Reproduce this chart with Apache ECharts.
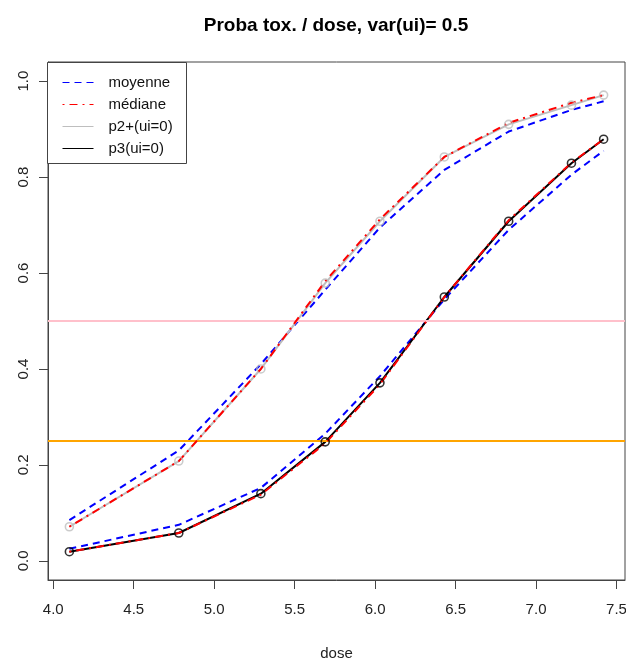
<!DOCTYPE html>
<html>
<head>
<meta charset="utf-8">
<script src="https://cdn.jsdelivr.net/npm/echarts@6/dist/echarts.min.js"></script>
<style>
html,body{margin:0;padding:0;background:#fff;}
#chart{width:626px;height:660px;}
</style>
</head>
<body>
<div id="chart"></div>
<script>
// ---- data ----
var dose = [4.10, 4.78, 5.29, 5.69, 6.03, 6.43, 6.83, 7.22, 7.42];
var moyenneP2 = [0.085, 0.230, 0.410, 0.565, 0.695, 0.815, 0.895, 0.940, 0.958];
var moyenneP3 = [0.025, 0.075, 0.152, 0.265, 0.385, 0.545, 0.690, 0.805, 0.855];
var medianeP2 = [0.071, 0.208, 0.400, 0.583, 0.712, 0.842, 0.913, 0.955, 0.971];
var medianeP3 = [0.019, 0.058, 0.138, 0.245, 0.368, 0.550, 0.710, 0.830, 0.879];
var p2ui0 = [0.071, 0.208, 0.400, 0.579, 0.708, 0.842, 0.910, 0.950, 0.971];
var p3ui0 = [0.019, 0.058, 0.140, 0.248, 0.371, 0.550, 0.708, 0.829, 0.879];
var xTicks = [4.0, 4.5, 5.0, 5.5, 6.0, 6.5, 7.0, 7.5];
var yTicks = [0.0, 0.2, 0.4, 0.6, 0.8, 1.0];
var refLines = [0.5, 0.25];
var legendNames = ['moyenne', 'médiane', 'p2+(ui=0)', 'p3(ui=0)'];
var titleText = 'Proba tox. / dose, var(ui)= 0.5';
var xName = 'dose';

function pairs(xs, ys) { return xs.map(function (x, i) { return [x, ys[i]]; }); }

var dMin = Math.min.apply(null, dose), dMax = Math.max.apply(null, dose);
var xPad = (dMax - dMin) * 0.04;
var xMin = dMin - xPad, xMax = dMax + xPad;
var yMin = 0 - 0.04, yMax = 1 + 0.04;

var FONT = '"Liberation Sans", Arial, sans-serif';
var AXIS = '#444';

var chart = echarts.init(document.getElementById('chart'), null, {renderer: 'canvas'});

function lineSeries(name, ys, color, width, type, z) {
  return {
    name: name, type: 'line', data: pairs(dose, ys),
    symbol: 'none', silent: true, animation: false, z: z,
    lineStyle: {color: color, width: width, type: type},
    itemStyle: {color: color}
  };
}
function markerSeries(ys, color) {
  return {
    type: 'scatter', data: pairs(dose, ys), symbol: 'circle', symbolSize: 8,
    silent: true, animation: false, z: 6,
    itemStyle: {color: 'rgba(0,0,0,0)', borderColor: color, borderWidth: 1.6}
  };
}

var first = lineSeries('moyenne', moyenneP2, '#0000FF', 2, [7, 5], 3);
first.markLine = {
  silent: true, symbol: 'none', animation: false,
  label: {show: false},
  data: [
    {yAxis: refLines[0], lineStyle: {color: '#FFC0CB', width: 2, type: 'solid'}},
    {yAxis: refLines[1], lineStyle: {color: '#FFA500', width: 2, type: 'solid'}}
  ]
};

var option = {
  backgroundColor: '#fff',
  animation: false,
  title: {
    text: titleText, left: 331, top: 11, textAlign: 'center',
    textStyle: {fontFamily: FONT, fontSize: 19, fontWeight: 'bold', color: '#000'}
  },
  grid: {left: 48, right: 1, top: 62, bottom: 80, show: true, borderColor: AXIS, borderWidth: 1,
    backgroundColor: 'transparent', containLabel: false, outerBoundsMode: 'none'},
  legend: {
    data: legendNames, orient: 'vertical', left: 62, top: 75, z: 60,
    itemWidth: 31, itemHeight: 14, itemGap: 7, padding: 0,
    selectedMode: false,
    lineStyle: {width: 1},
    itemStyle: {opacity: 0},
    textStyle: {fontFamily: FONT, fontSize: 15, color: '#111', padding: [0, 0, 0, 10]}
  },
  graphic: [{
    type: 'rect', left: 47, top: 62, z: 50, silent: true,
    shape: {width: 139, height: 101},
    style: {fill: '#fff', stroke: AXIS, lineWidth: 1}
  }],
  xAxis: {
    type: 'value', min: xMin, max: xMax,
    name: xName, nameLocation: 'middle', nameGap: 66,
    nameTextStyle: {fontFamily: FONT, fontSize: 15, color: '#222'},
    axisLine: {show: true, onZero: false, lineStyle: {color: AXIS, width: 1}},
    axisTick: {show: true, length: 9, customValues: xTicks, lineStyle: {color: AXIS}},
    axisLabel: {customValues: xTicks, margin: 22, fontFamily: FONT, fontSize: 15, color: '#222',
      formatter: function (v) { return v.toFixed(1); }},
    splitLine: {show: false}
  },
  yAxis: {
    type: 'value', min: yMin, max: yMax,
    axisLine: {show: true, onZero: false, lineStyle: {color: AXIS, width: 1}},
    axisTick: {show: true, length: 9, customValues: yTicks, lineStyle: {color: AXIS}},
    axisLabel: {customValues: yTicks, rotate: 90, margin: 17, fontFamily: FONT, fontSize: 15, color: '#222',
      formatter: function (v) { return v.toFixed(1); }},
    splitLine: {show: false}
  },
  series: [
    first,
    lineSeries('moyenne', moyenneP3, '#0000FF', 2, [7, 5], 3),
    lineSeries('p2+(ui=0)', p2ui0, '#BEBEBE', 2, 'solid', 4),
    lineSeries('p3(ui=0)', p3ui0, '#000000', 2, 'solid', 4),
    lineSeries('médiane', medianeP2, '#FF0000', 2, [2, 5, 8, 5], 5),
    lineSeries('médiane', medianeP3, '#FF0000', 2, [2, 5, 8, 5], 5),
    markerSeries(p2ui0, '#BEBEBE'),
    markerSeries(p3ui0, '#000000')
  ]
};
chart.setOption(option);
</script>
</body>
</html>
